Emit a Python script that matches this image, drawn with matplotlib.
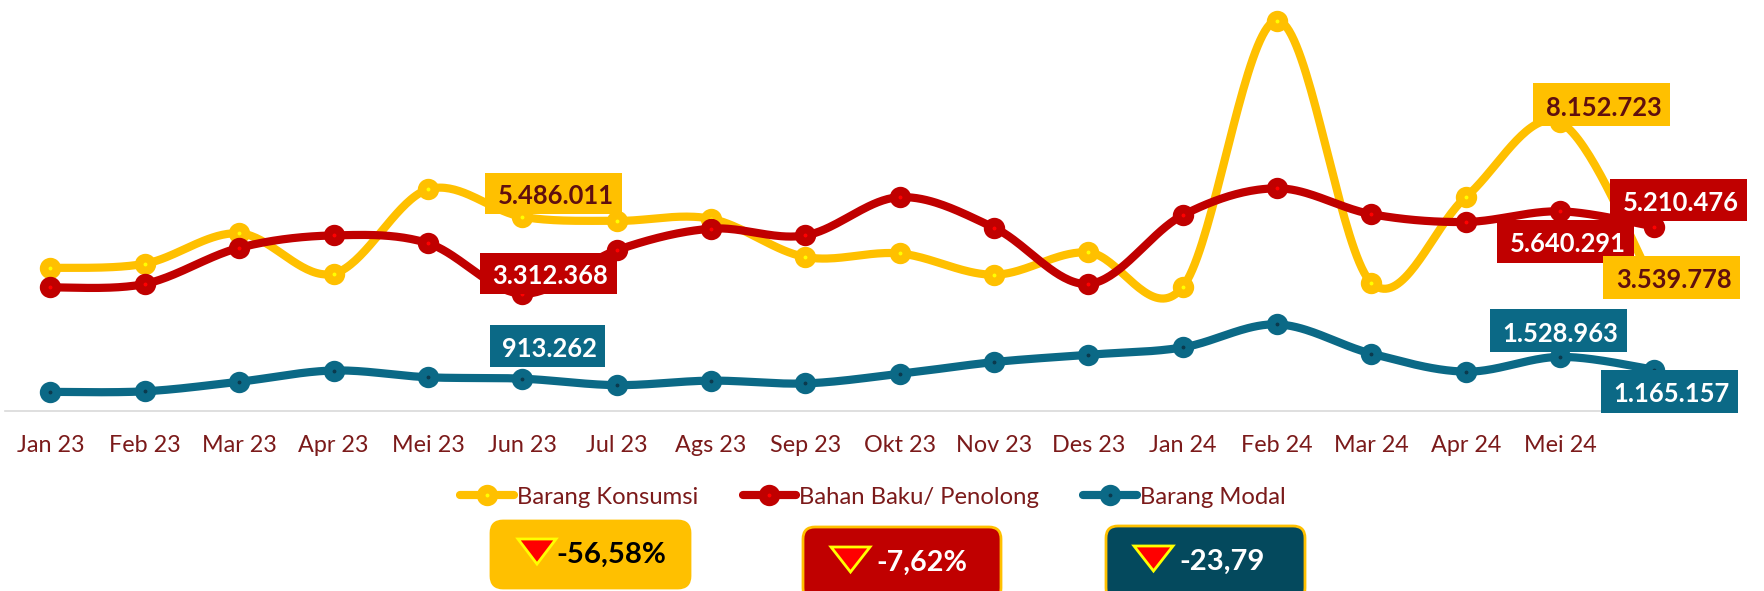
import numpy as np
import matplotlib
matplotlib.use("Agg")
import matplotlib.pyplot as plt
from matplotlib.lines import Line2D
from matplotlib.patches import Rectangle, FancyBboxPatch, Polygon
from matplotlib.transforms import Affine2D

plt.rcParams['font.family'] = ['Lato', 'DejaVu Sans']

months = ["Jan 23", "Feb 23", "Mar 23", "Apr 23", "Mei 23", "Jun 23", "Jul 23", "Ags 23", "Sep 23",
          "Okt 23", "Nov 23", "Des 23", "Jan 24", "Feb 24", "Mar 24", "Apr 24", "Mei 24", ""]
konsumsi = [4040000, 4160000, 5020000, 3880000, 6260000, 5486011, 5370000, 5430000, 4350000,
            4450000, 3850000, 4480000, 3500000, 11030000, 3620000, 6040000, 8152723, 3539778]
bahan = [3490000, 3590000, 4610000, 4960000, 4740000, 3312368, 4540000, 5150000, 4960000,
         6040000, 5180000, 3590000, 5530000, 6290000, 5560000, 5340000, 5640291, 5210476]
modal = [540000, 556000, 826000, 1144000, 953000, 913262, 731000, 858000, 779000,
         1049000, 1382000, 1589000, 1796000, 2447000, 1621000, 1112000, 1528963, 1165157]
series_names = ["Barang Konsumsi", "Bahan Baku/ Penolong", "Barang Modal"]
badge_texts = ["-56,58%", "-7,62%", "-23,79"]

YEL, RED, TEAL = "#FFC000", "#C00000", "#0B6986"
INNER = {YEL: "#FFFF00", RED: "#FF0000", TEAL: "#0B3A4E"}
TICK = "#7B1A1A"
DARK = "#5F0F0F"

W, H = 1764, 591
fig = plt.figure(figsize=(W / 100, H / 100), dpi=100, facecolor="white")
base_px, x0_px, step_px, px_per_unit = 411, 50.5, 94.35, 35.4e-6
ax = fig.add_axes([0, (H - base_px) / H, 1, base_px / H])
ax.patch.set_alpha(0)
ax.set_xlim(-x0_px / step_px, (W - x0_px) / step_px)
ax.set_ylim(0, base_px / px_per_unit)
x = np.arange(len(months))


def smooth(xs, ys, n=40):
    """Excel-like smoothed line through the points (Catmull-Rom Bezier segments)."""
    xs, ys = np.asarray(xs, float), np.asarray(ys, float)
    px = np.r_[xs[0], xs, xs[-1]]
    py = np.r_[ys[0], ys, ys[-1]]
    out_x, out_y = [], []
    t = np.linspace(0, 1, n)[:, None]
    for i in range(1, len(px) - 2):
        p0 = np.array([px[i], py[i]])
        p3 = np.array([px[i + 1], py[i + 1]])
        c1 = p0 + (np.array([px[i + 1], py[i + 1]]) - np.array([px[i - 1], py[i - 1]])) / 6
        c2 = p3 - (np.array([px[i + 2], py[i + 2]]) - np.array([px[i], py[i]])) / 6
        c = (1 - t) ** 3 * p0 + 3 * (1 - t) ** 2 * t * c1 + 3 * (1 - t) * t ** 2 * c2 + t ** 3 * p3
        out_x.append(c[:, 0])
        out_y.append(c[:, 1])
    return np.concatenate(out_x), np.concatenate(out_y)


LW, MS, MEW = 5.9, 9.2, 6.2
handles = []
for vals, col, name in zip([konsumsi, bahan, modal], [YEL, RED, TEAL], series_names):
    sx, sy = smooth(x, vals)
    ax.plot(sx, sy, color=col, lw=LW, solid_capstyle="round", zorder=2)
    ax.plot(x, vals, ls="none", marker="o", ms=MS, mew=MEW, mec=col, mfc=INNER[col], zorder=3)
    handles.append(Line2D([], [], color=col, lw=LW, solid_capstyle="round", marker="o", ms=MS,
                          mew=MEW, mec=col, mfc=INNER[col], label=name))

ax.set_yticks([])
ax.set_xticks(x, months)
ax.tick_params(axis="x", length=0, pad=17, labelsize=16.8, labelcolor=TICK)
for s in ["top", "left", "right"]:
    ax.spines[s].set_visible(False)
ax.spines["bottom"].set_color("#D9D9D9")
ax.spines["bottom"].set_linewidth(1.2)
ax.spines["bottom"].set_bounds((5 - x0_px) / step_px, (1700 - x0_px) / step_px)

# pixel coordinates, y downwards, for layout-only furniture
px = Affine2D().scale(1, -1).translate(0, H)


def fig_xy(xp, yp):
    return xp / W, 1 - yp / H


fig.legend(handles=handles, loc="center", bbox_to_anchor=fig_xy(873, 497), ncol=3, frameon=False,
           fontsize=17.2, labelcolor=TICK, handlelength=2.25, handletextpad=0.12, columnspacing=1.85,
           borderpad=0, borderaxespad=0, numpoints=1)

# value labels: text, x-range, y-range, fill, text colour
labels = [
    ("5.486.011", 485, 622, 173, 214, YEL, DARK),
    ("3.312.368", 480, 617, 253, 294, RED, "white"),
    ("913.262", 490, 605, 325, 367, TEAL, "white"),
    ("8.152.723", 1533, 1670, 83, 126, YEL, DARK),
    ("5.210.476", 1610, 1747, 179, 221, RED, "white"),
    ("5.640.291", 1497, 1634, 220, 263, RED, "white"),
    ("3.539.778", 1603, 1740, 256, 299, YEL, DARK),
    ("1.528.963", 1490, 1627, 309, 352, TEAL, "white"),
    ("1.165.157", 1601, 1738, 370, 413, TEAL, "white"),
]
for txt, x1, x2, y1, y2, fc, tc in labels:
    fig.add_artist(Rectangle((x1, y1), x2 - x1, y2 - y1, transform=px, fc=fc, ec="none", zorder=5))
    fig.text(((x1 + x2) / 2 + 2) / W, 1 - ((y1 + y2) / 2 + 1) / H, txt, color=tc, fontsize=18.4,
             fontweight="bold", ha="center", va="center_baseline", zorder=6)

# summary badges
badges = [
    (491, 690, 521, 588, YEL, YEL, (516, 558, 537, 566), "black", 611, 21.2),
    (803, 1001, 527, 600, RED, YEL, (829, 872, 545, 574), "white", 922, 20.6),
    (1106, 1305, 526, 600, "#04495D", YEL, (1132, 1175, 544, 573), "white", 1222, 21),
]
for (x1, x2, y1, y2, fc, ec, tri, tc, tx, fs), txt in zip(badges, badge_texts):
    fig.add_artist(FancyBboxPatch((x1 + 10, y1 + 10), x2 - x1 - 20, y2 - y1 - 20,
                                  boxstyle="round,pad=10,rounding_size=12", transform=px,
                                  fc=fc, ec=ec, lw=2, zorder=5))
    tx1, tx2, ty1, ty2 = tri
    fig.add_artist(Polygon([(tx1 + 2, ty1 + 2), (tx2 - 2, ty1 + 2), ((tx1 + tx2) / 2, ty2 - 2)], closed=True,
                           transform=px, fc="#FF0000", ec="#FFFF00", lw=2, zorder=6))
    fig.text(tx / W, 1 - (ty1 + ty2 + 2) / 2 / H, txt, color=tc, fontsize=fs, fontweight="bold",
             ha="center", va="center_baseline", zorder=6)

fig.savefig("out.png", dpi=100)
